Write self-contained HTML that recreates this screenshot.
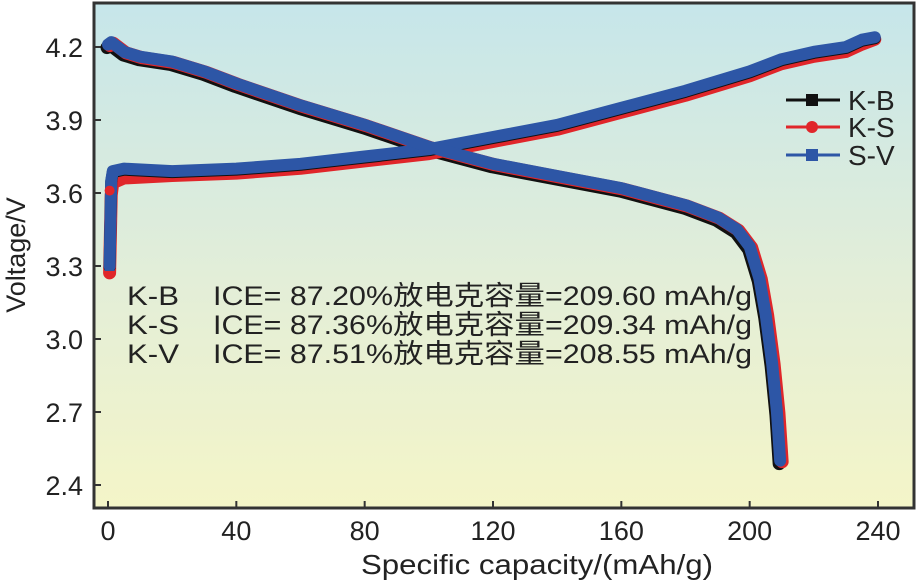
<!DOCTYPE html>
<html><head><meta charset="utf-8"><style>
html,body{margin:0;padding:0;background:#fff}
svg text{font-family:"Liberation Sans","Noto Sans CJK SC",sans-serif;fill:#222}
</style></head><body>
<svg width="917" height="581" viewBox="0 0 917 581">
<defs><linearGradient id="bg" x1="0" y1="0" x2="0" y2="1"><stop offset="0" stop-color="#c6e6ea"/><stop offset="0.55" stop-color="#e3eed8"/><stop offset="1" stop-color="#f4f5c8"/></linearGradient></defs>
<rect x="94" y="3" width="820" height="505" fill="url(#bg)" stroke="#333" stroke-width="3"/>
<g id="ticks"></g><g id="series"></g>
<text x="25" y="255" font-size="27" text-anchor="middle" transform="rotate(-90 25 255)">Voltage/V</text>
<text x="537" y="574" font-size="28" text-anchor="middle" textLength="352" lengthAdjust="spacingAndGlyphs">Specific capacity/(mAh/g)</text>
<g font-size="27">
<text x="127" y="305" textLength="52" lengthAdjust="spacingAndGlyphs">K-B</text><text x="213" y="305" textLength="539" lengthAdjust="spacingAndGlyphs">ICE= 87.20%放电克容量=209.60 mAh/g</text>
<text x="127" y="334" textLength="52" lengthAdjust="spacingAndGlyphs">K-S</text><text x="213" y="334" textLength="539" lengthAdjust="spacingAndGlyphs">ICE= 87.36%放电克容量=209.34 mAh/g</text>
<text x="127" y="363" textLength="52" lengthAdjust="spacingAndGlyphs">K-V</text><text x="213" y="363" textLength="539" lengthAdjust="spacingAndGlyphs">ICE= 87.51%放电克容量=208.55 mAh/g</text>
</g>
<g>
<line x1="786" y1="100" x2="840" y2="100" stroke="#111" stroke-width="3"/><rect x="806" y="94" width="12" height="12" fill="#111"/>
<text x="848" y="110" font-size="28">K-B</text>
<line x1="786" y1="127" x2="840" y2="127" stroke="#e0262a" stroke-width="3"/><circle cx="812" cy="127" r="6" fill="#e0262a"/>
<text x="848" y="137" font-size="28">K-S</text>
<line x1="786" y1="155" x2="840" y2="155" stroke="#2d56a6" stroke-width="3"/><rect x="806" y="149" width="12" height="12" fill="#2d56a6"/>
<text x="848" y="165" font-size="28">S-V</text>
</g>
</svg>
<script>
const xTicks=[0,40,80,120,160,200,240];
const yTicks=[2.4,2.7,3.0,3.3,3.6,3.9,4.2];
const chgCap=[0.5,1,1.5,5,20,40,60,80,100,120,140,160,180,200,210,220,230,235,239];
const chgV=[3.3,3.65,3.69,3.70,3.69,3.70,3.72,3.75,3.78,3.83,3.88,3.95,4.02,4.10,4.15,4.18,4.20,4.23,4.24];
const chgVred=[3.28,3.6,3.65,3.67,3.68,3.69,3.71,3.74,3.77,3.82,3.87,3.94,4.01,4.09,4.14,4.17,4.19,4.22,4.24];
const disCap=[0,1,5,10,20,30,40,60,80,100,120,140,160,180,190,196,200,203,205,207,208.5,209.5];
const disV=[4.21,4.22,4.18,4.16,4.14,4.10,4.05,3.96,3.88,3.79,3.72,3.67,3.62,3.55,3.50,3.45,3.38,3.25,3.1,2.9,2.7,2.5];
const X=v=>108+v*(878-108)/240, Y=v=>485-(v-2.4)*(485-47)/1.8;
const NS='http://www.w3.org/2000/svg';
const tg=document.getElementById('ticks'), sg=document.getElementById('series');
function mk(t,a,p){const e=document.createElementNS(NS,t);for(const k in a)e.setAttribute(k,a[k]);p.appendChild(e);return e;}
xTicks.forEach(v=>{mk('line',{x1:X(v),x2:X(v),y1:508,y2:501,stroke:'#333','stroke-width':2},tg);
const t=mk('text',{x:X(v),y:540,'font-size':27,'text-anchor':'middle'},tg);t.textContent=v;

});
yTicks.forEach(v=>{mk('line',{x1:94,x2:101,y1:Y(v),y2:Y(v),stroke:'#333','stroke-width':2},tg);
const t=mk('text',{x:83,y:Y(v)+10,'font-size':27,'text-anchor':'end'},tg);t.textContent=v.toFixed(1);

});
function path(c,v,dx,dy){return c.map((x,i)=>(i?'L':'M')+(X(x)+dx)+' '+(Y(v[i])+dy)).join(' ');}
function draw(name,d,col,w){const p=mk('path',{d:d,fill:'none',stroke:col,'stroke-width':w,'stroke-linejoin':'round','stroke-linecap':'round'},sg);

}
draw('kb-discharge',path(disCap,disV,-1,3),'#111',13);
draw('ks-discharge',path(disCap,disV,2,1),'#e0262a',13);
draw('ks-charge',path(chgCap,chgVred,0,2),'#e0262a',13);
draw('kb-charge',path(chgCap,chgV,0,1),'#111',12);
draw('sv-charge',path(chgCap,chgV,0,0),'#2d56a6',12);
draw('sv-discharge',path(disCap,disV,0,0),'#2d56a6',12);
mk('circle',{cx:X(0.5),cy:Y(3.28),r:5,fill:'#e0262a'},sg);
mk('circle',{cx:X(0.5),cy:Y(3.61),r:5,fill:'#e0262a'},sg);
mk('rect',{x:X(0.5)-5,y:Y(3.3)-5,width:10,height:10,fill:'#2d56a6'},sg);
</script>
</body></html>
